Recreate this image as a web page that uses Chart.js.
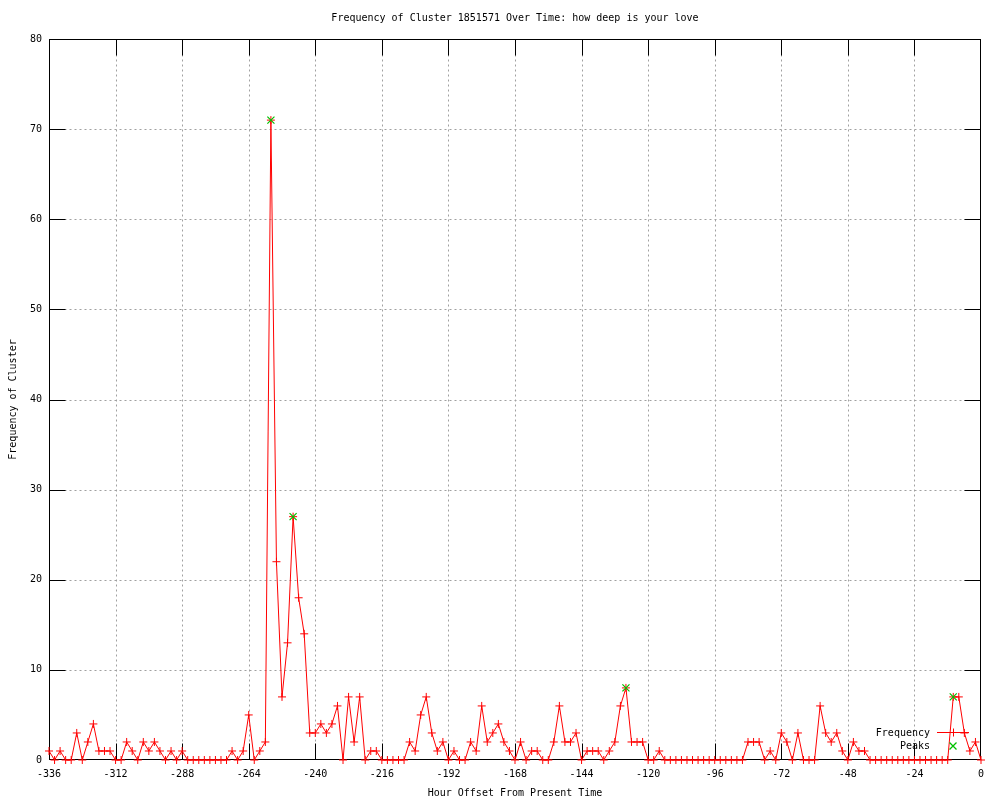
<!DOCTYPE html>
<html>
<head>
<meta charset="utf-8">
<title>Frequency of Cluster 1851571</title>
<script src="https://cdn.jsdelivr.net/npm/chart.js@4.4.0/dist/chart.umd.min.js"></script>
<style>
  html, body { margin: 0; padding: 0; background: #fff; }
  canvas { display: block; }
</style>
</head>
<body>
<canvas id="clusterChart" width="1000" height="800"></canvas>
<script>
// hour offsets, one row per day
const hours = [
  -336, -334, -332, -330, -328, -326, -324, -322, -320, -318, -316, -314,
  -312, -310, -308, -306, -304, -302, -300, -298, -296, -294, -292, -290,
  -288, -286, -284, -282, -280, -278, -276, -274, -272, -270, -268, -266,
  -264, -262, -260, -258, -256, -254, -252, -250, -248, -246, -244, -242,
  -240, -238, -236, -234, -232, -230, -228, -226, -224, -222, -220, -218,
  -216, -214, -212, -210, -208, -206, -204, -202, -200, -198, -196, -194,
  -192, -190, -188, -186, -184, -182, -180, -178, -176, -174, -172, -170,
  -168, -166, -164, -162, -160, -158, -156, -154, -152, -150, -148, -146,
  -144, -142, -140, -138, -136, -134, -132, -130, -128, -126, -124, -122,
  -120, -118, -116, -114, -112, -110, -108, -106, -104, -102, -100, -98,
  -96, -94, -92, -90, -88, -86, -84, -82, -80, -78, -76, -74,
  -72, -70, -68, -66, -64, -62, -60, -58, -56, -54, -52, -50,
  -48, -46, -44, -42, -40, -38, -36, -34, -32, -30, -28, -26,
  -24, -22, -20, -18, -16, -14, -12, -10, -8, -6, -4, -2,
  0,
];

const frequency = [
  1, 0, 1, 0, 0, 3, 0, 2, 4, 1, 1, 1,
  0, 0, 2, 1, 0, 2, 1, 2, 1, 0, 1, 0,
  1, 0, 0, 0, 0, 0, 0, 0, 0, 1, 0, 1,
  5, 0, 1, 2, 71, 22, 7, 13, 27, 18, 14, 3,
  3, 4, 3, 4, 6, 0, 7, 2, 7, 0, 1, 1,
  0, 0, 0, 0, 0, 2, 1, 5, 7, 3, 1, 2,
  0, 1, 0, 0, 2, 1, 6, 2, 3, 4, 2, 1,
  0, 2, 0, 1, 1, 0, 0, 2, 6, 2, 2, 3,
  0, 1, 1, 1, 0, 1, 2, 6, 8, 2, 2, 2,
  0, 0, 1, 0, 0, 0, 0, 0, 0, 0, 0, 0,
  0, 0, 0, 0, 0, 0, 2, 2, 2, 0, 1, 0,
  3, 2, 0, 3, 0, 0, 0, 6, 3, 2, 3, 1,
  0, 2, 1, 1, 0, 0, 0, 0, 0, 0, 0, 0,
  0, 0, 0, 0, 0, 0, 0, 7, 7, 3, 1, 2,
  0,
];

const peakHours = [-256, -248, -128, -10];
const peakValues = [71, 27, 8, 7];

const chartTitle = "Frequency of Cluster 1851571 Over Time: how deep is your love";
const xTitle = "Hour Offset From Present Time";
const yTitle = "Frequency of Cluster";
const seriesNames = ["Frequency", "Peaks"];

const FONT = '10px "DejaVu Sans Mono", monospace';
const RED = "#ff0000";
const GREEN = "#00c000";

function crossMark(ctx, x, y, r, rotated) {
  ctx.beginPath();
  if (rotated) {
    ctx.moveTo(x - r, y - r); ctx.lineTo(x + r, y + r);
    ctx.moveTo(x - r, y + r); ctx.lineTo(x + r, y - r);
  } else {
    ctx.moveTo(x - r, y); ctx.lineTo(x + r, y);
    ctx.moveTo(x, y - r); ctx.lineTo(x, y + r);
  }
  ctx.stroke();
}

// gnuplot look: dotted grid, inward ticks on all sides, boxed plot, legend inside
const gnuplotFrame = {
  id: "gnuplotFrame",
  beforeDatasetsDraw(chart) {
    const { ctx, chartArea: a, scales } = chart;
    const L = Math.round(a.left) + 0.5, R = Math.round(a.right) - 0.5;
    const T = Math.round(a.top) + 0.5, B = Math.round(a.bottom) - 0.5;
    const xPx = v => Math.min(R, Math.max(L, Math.round(scales.x.getPixelForValue(v)) + 0.5));
    const yPx = v => Math.min(B, Math.max(T, Math.round(scales.y.getPixelForValue(v)) + 0.5));
    const tick = 16;
    ctx.save();
    ctx.lineWidth = 1;

    ctx.strokeStyle = "#a0a0a0";
    ctx.setLineDash([2, 3]);
    ctx.beginPath();
    scales.x.ticks.forEach(t => {
      if (t.value <= scales.x.min || t.value >= scales.x.max) return;
      const px = xPx(t.value);
      ctx.moveTo(px, T); ctx.lineTo(px, B);
    });
    scales.y.ticks.forEach(t => {
      if (t.value <= scales.y.min || t.value >= scales.y.max) return;
      const py = yPx(t.value);
      ctx.moveTo(L, py); ctx.lineTo(R, py);
    });
    ctx.stroke();

    ctx.setLineDash([]);
    ctx.strokeStyle = "#000";
    ctx.beginPath();
    scales.x.ticks.forEach(t => {
      const px = xPx(t.value);
      ctx.moveTo(px, B); ctx.lineTo(px, B - tick);
      ctx.moveTo(px, T); ctx.lineTo(px, T + tick);
    });
    scales.y.ticks.forEach(t => {
      const py = yPx(t.value);
      ctx.moveTo(L, py); ctx.lineTo(L + tick, py);
      ctx.moveTo(R, py); ctx.lineTo(R - tick, py);
    });
    ctx.stroke();
    ctx.strokeRect(L, T, R - L, B - T);
    ctx.restore();
  },
  afterDraw(chart) {
    const { ctx, chartArea: a } = chart;
    const cx = (a.left + a.right) / 2;
    ctx.save();
    ctx.font = FONT;
    ctx.fillStyle = "#000";
    ctx.textAlign = "center";
    ctx.textBaseline = "middle";
    ctx.fillText(chartTitle, cx, 18);
    ctx.fillText(xTitle, cx, 793);
    ctx.save();
    ctx.translate(13, (a.top + a.bottom) / 2);
    ctx.rotate(-Math.PI / 2);
    ctx.fillText(yTitle, 0, 0);
    ctx.restore();

    // legend
    const textRight = 930, x0 = 937, x1 = 969, xm = 953;
    ctx.textAlign = "right";
    ctx.fillText(seriesNames[0], textRight, 733);
    ctx.fillText(seriesNames[1], textRight, 746);
    ctx.lineWidth = 1;
    ctx.strokeStyle = RED;
    ctx.beginPath();
    ctx.moveTo(x0, 732.5); ctx.lineTo(x1, 732.5);
    ctx.stroke();
    crossMark(ctx, xm + 0.5, 732.5, 4, false);
    ctx.strokeStyle = GREEN;
    ctx.lineWidth = 1.3;
    crossMark(ctx, xm, 746, 3.5, true);
    ctx.restore();
  },
};

const freqPoints = hours.map((h, i) => ({ x: h, y: frequency[i] }));
const peakPoints = peakHours.map((h, i) => ({ x: h, y: peakValues[i] }));

const ctx = document.getElementById("clusterChart");
new Chart(ctx, {
  type: "line",
  data: {
    datasets: [
      {
        label: seriesNames[0],
        data: freqPoints,
        borderColor: RED,
        borderWidth: 1,
        tension: 0,
        fill: false,
        pointStyle: "cross",
        pointRadius: 4,
        pointBorderColor: RED,
        pointBorderWidth: 1,
        clip: false,
        order: 2,
      },
      {
        label: seriesNames[1],
        data: peakPoints,
        showLine: false,
        pointStyle: "crossRot",
        pointRadius: 5,
        pointBorderColor: GREEN,
        pointBorderWidth: 1.2,
        clip: false,
        order: 1,
      },
    ],
  },
  options: {
    responsive: false,
    animation: false,
    events: [],
    layout: { padding: { top: 39, right: 19, left: 0, bottom: 0 } },
    plugins: {
      legend: { display: false },
      title: { display: false },
      tooltip: { enabled: false },
    },
    scales: {
      x: {
        type: "linear",
        min: -336,
        max: 0,
        grid: { display: false, drawTicks: false },
        border: { display: false },
        ticks: {
          stepSize: 24,
          padding: 8,
          maxRotation: 0,
          autoSkip: false,
          color: "#000",
          font: { family: '"DejaVu Sans Mono", monospace', size: 10 },
        },
        afterFit(scale) {
          scale.height = 40;
          scale.paddingLeft = 0;
          scale.paddingRight = 0;
        },
      },
      y: {
        min: 0,
        max: 80,
        grid: { display: false, drawTicks: false },
        border: { display: false },
        ticks: {
          stepSize: 10,
          padding: 7,
          color: "#000",
          font: { family: '"DejaVu Sans Mono", monospace', size: 10 },
        },
        afterFit(scale) {
          scale.width = 49;
          scale.paddingTop = 0;
          scale.paddingBottom = 0;
        },
      },
    },
  },
  plugins: [gnuplotFrame],
});
</script>
</body>
</html>
